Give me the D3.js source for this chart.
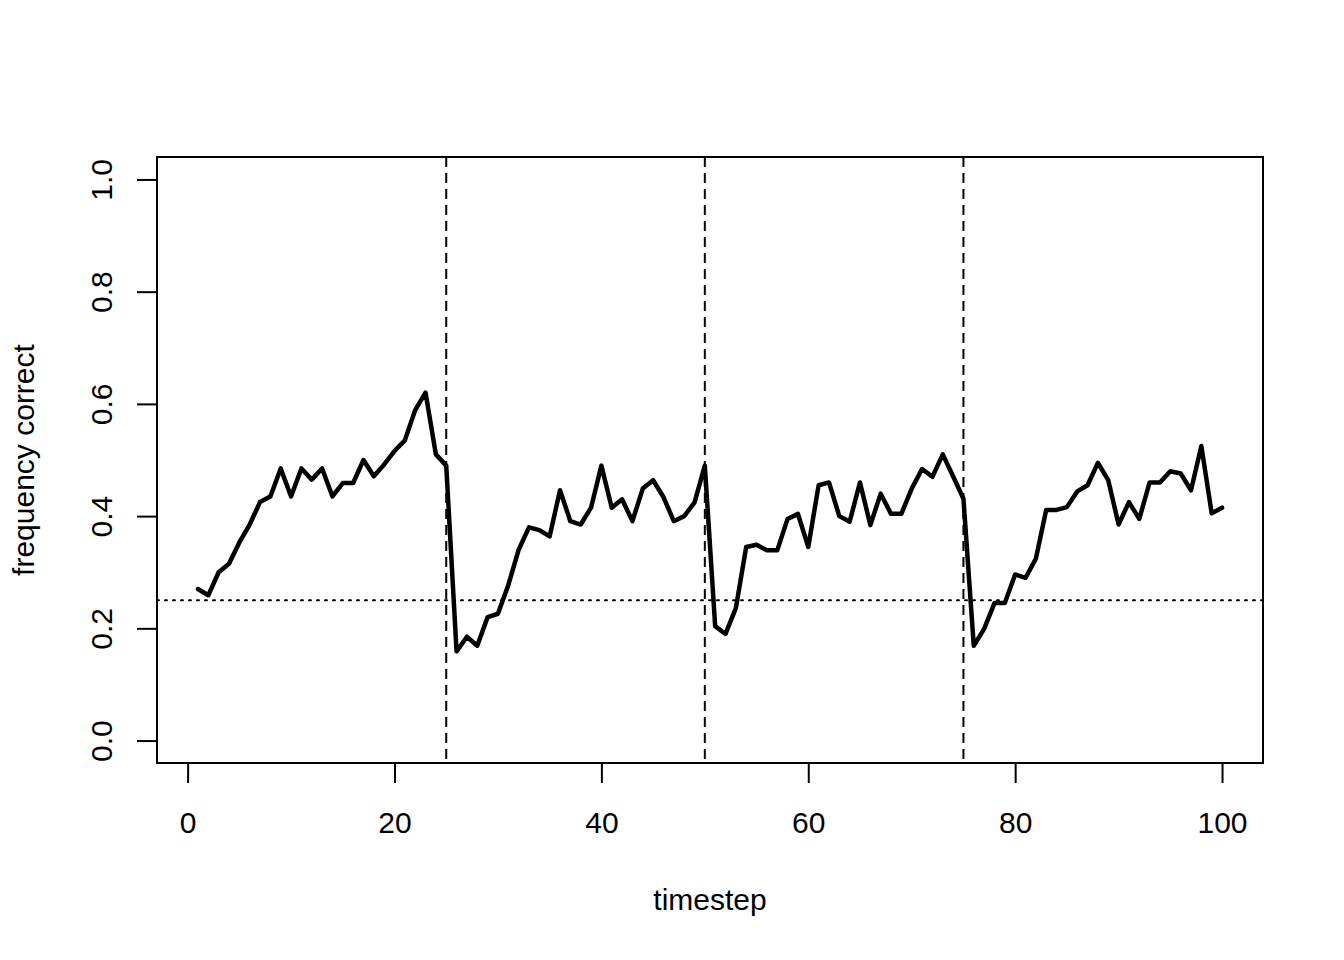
<!DOCTYPE html>
<html>
<head>
<meta charset="utf-8">
<script src="https://cdn.jsdelivr.net/npm/d3@7"></script>
<style>
  body { margin: 0; background: #fff; }
  text { font-family: "Liberation Sans", Arial, Helvetica, sans-serif; fill: #000; }
</style>
</head>
<body>
<svg width="1344" height="960"></svg>
<script>
// values, one per timestep 1..100
var freq = [
  0.270, 0.259, 0.300, 0.315, 0.353, 0.385, 0.425, 0.435, 0.485, 0.435,
  0.485, 0.465, 0.485, 0.435, 0.459, 0.459, 0.500, 0.471, 0.492, 0.516,
  0.535, 0.589, 0.620, 0.510, 0.490, 0.159, 0.185, 0.169, 0.220, 0.226,
  0.277, 0.340, 0.380, 0.375, 0.364, 0.446, 0.391, 0.385, 0.415, 0.490,
  0.415, 0.430, 0.391, 0.449, 0.464, 0.434, 0.391, 0.400, 0.424, 0.490,
  0.204, 0.190, 0.236, 0.345, 0.349, 0.339, 0.339, 0.395, 0.404, 0.345,
  0.455, 0.460, 0.400, 0.390, 0.460, 0.384, 0.440, 0.404, 0.404, 0.449,
  0.484, 0.470, 0.510, 0.471, 0.431, 0.169, 0.199, 0.245, 0.245, 0.296,
  0.290, 0.324, 0.411, 0.411, 0.416, 0.444, 0.455, 0.495, 0.464, 0.385,
  0.425, 0.395, 0.460, 0.460, 0.480, 0.476, 0.446, 0.525, 0.405, 0.415
];
var timestep = freq.map(function(d, i) { return i + 1; });

var xTicks = [0, 20, 40, 60, 80, 100];
var yTicks = [0.0, 0.2, 0.4, 0.6, 0.8, 1.0];
var switchPoints = [25, 50, 75];
var chance = 0.25;

var svg = d3.select("svg");

// plot region (R style: 4% padding around the data range)
var pl = 157, pr = 1263, pt = 157, pb = 763;

var x = d3.scaleLinear()
    .domain([1 - 0.04 * 99, 100 + 0.04 * 99])
    .range([pl, pr]);

var y = d3.scaleLinear()
    .domain([-0.04, 1.04])
    .range([pb, pt]);

svg.append("clipPath").attr("id", "plotclip")
  .append("rect")
    .attr("x", pl).attr("y", pt)
    .attr("width", pr - pl).attr("height", pb - pt);

var plot = svg.append("g").attr("clip-path", "url(#plotclip)");

// chance line
plot.append("line")
    .attr("x1", pl).attr("x2", pr)
    .attr("y1", y(chance)).attr("y2", y(chance))
    .attr("stroke", "#000")
    .attr("stroke-width", 2)
    .attr("stroke-linecap", "round")
    .attr("stroke-dasharray", "2 6");

// switch lines
plot.selectAll(".switch")
  .data(switchPoints)
  .enter().append("line")
    .attr("class", "switch")
    .attr("x1", function(d) { return x(d); })
    .attr("x2", function(d) { return x(d); })
    .attr("y1", pt).attr("y2", pb)
    .attr("stroke", "#000")
    .attr("stroke-width", 2)
    .attr("stroke-dasharray", "10 6");

var line = d3.line()
    .x(function(d, i) { return x(timestep[i]); })
    .y(function(d) { return y(d); });

plot.append("path")
    .datum(freq)
    .attr("d", line)
    .attr("fill", "none")
    .attr("stroke", "#000")
    .attr("stroke-width", 4.5)
    .attr("stroke-linejoin", "round")
    .attr("stroke-linecap", "round");

// box
svg.append("rect")
    .attr("x", pl).attr("y", pt)
    .attr("width", pr - pl).attr("height", pb - pt)
    .attr("fill", "none")
    .attr("stroke", "#000")
    .attr("stroke-width", 2);

// x axis
var xAxis = svg.append("g")
    .attr("transform", "translate(0," + pb + ")")
    .call(d3.axisBottom(x).tickValues(xTicks).tickSize(20).tickPadding(0).tickFormat(d3.format("d")));
xAxis.select(".domain")
    .attr("d", "M" + x(0) + ",0H" + x(100))
    .attr("stroke-width", 2);
xAxis.selectAll(".tick line").attr("stroke-width", 2);
xAxis.selectAll(".tick text")
    .attr("y", 70).attr("dy", null)
    .style("font-size", "30px")
    .style("font-family", "'Liberation Sans', Arial, sans-serif");

// y axis
var yAxis = svg.append("g")
    .attr("transform", "translate(" + pl + ",0)")
    .call(d3.axisLeft(y).tickValues(yTicks).tickSize(20).tickFormat(d3.format(".1f")));
yAxis.select(".domain")
    .attr("d", "M0," + y(0) + "V" + y(1))
    .attr("stroke-width", 2);
yAxis.selectAll(".tick line").attr("stroke-width", 2);
yAxis.selectAll(".tick text")
    .attr("x", null).attr("dy", null)
    .attr("text-anchor", "middle")
    .attr("transform", "translate(-45,0) rotate(-90)")
    .style("font-size", "30px")
    .style("font-family", "'Liberation Sans', Arial, sans-serif");

// axis titles
svg.append("text")
    .attr("x", (pl + pr) / 2)
    .attr("y", 910)
    .attr("text-anchor", "middle")
    .style("font-size", "30px")
    .text("timestep");

svg.append("text")
    .attr("transform", "translate(34," + (pt + pb) / 2 + ") rotate(-90)")
    .attr("text-anchor", "middle")
    .style("font-size", "30px")
    .text("frequency correct");
</script>
</body>
</html>
